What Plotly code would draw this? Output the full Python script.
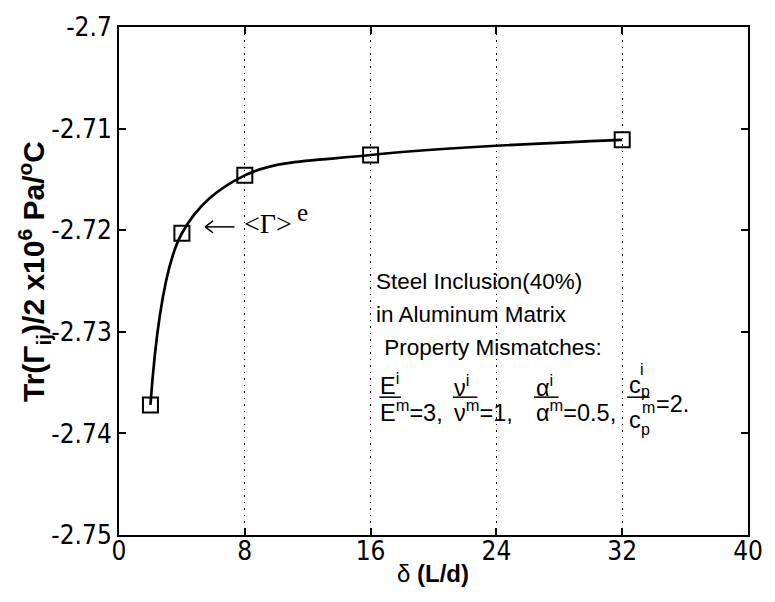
import plotly.graph_objects as go

# ---- data ----
delta = [2, 4, 8, 16, 32]
trace_vals = [-2.7372, -2.7203, -2.7146, -2.7126, -2.7111]
x_ticks = [0, 8, 16, 24, 32, 40]
x_ticktext = ["0", "8", "16", "24", "32", "40"]
y_ticks = [-2.75, -2.74, -2.73, -2.72, -2.71, -2.70]
y_ticktext = ["-2.75", "-2.74", "-2.73", "-2.72", "-2.71", "-2.7"]

W, H = 775, 602
L, R, T, B = 119, 13.5, 19, 67
pw = W - L - R
ph = H - T - B


def px(x):
    return (x - L) / pw


def py(y):
    return 1 - (y - T) / ph


SANS = "Liberation Sans, Arial, sans-serif"
NARROW = "Liberation Sans Narrow, Arial Narrow, DejaVu Sans Condensed, sans-serif"
SERIF = "Liberation Serif, Times New Roman, serif"

fig = go.Figure()
fig.add_trace(go.Scatter(
    x=delta, y=trace_vals, mode="lines+markers",
    line=dict(color="black", width=2.7, shape="spline", smoothing=1.0),
    marker=dict(symbol="square-open", size=15, color="black", line=dict(width=2, color="black")),
    showlegend=False,
))

anns = []


def ann(x, y, text, size=22, family=SANS, xanchor="left", yanchor="middle", angle=0):
    anns.append(dict(x=px(x), y=py(y), xref="paper", yref="paper", text=text,
                     showarrow=False, xanchor=xanchor, yanchor=yanchor, textangle=angle,
                     font=dict(family=family, size=size, color="black")))


# axis titles
ann(32, 267, "<b>Tr(Γ<sub>ij</sub>)/2 x10<sup>6</sup> Pa/<sup>o</sup>C</b>", size=30, xanchor="center", angle=-90)
ann(440, 574, "δ <b>(L/d)</b>", size=24, xanchor="center")

# <Γ>^e label
ann(245, 219, "&lt;Γ&gt;", size=28, family=SERIF)
ann(299, 207, "e", size=25, family=SERIF)

# text block
ann(379, 277, "Steel Inclusion(40%)", size=22.5)
ann(379, 311, "in Aluminum Matrix", size=22.5)
ann(382, 345, " Property Mismatches:", size=22.5)

# fractions
FS = 23.5
ann(384, 382, "E<sup>i</sup>", size=FS)
ann(384, 409, "E<sup>m</sup>=3,", size=FS)
ann(459, 384, "ν<sup>i</sup>", size=FS)
ann(459, 409, "ν<sup>m</sup>=1,", size=FS)
ann(543, 384, "α<sup>i</sup>", size=FS)
ann(543, 409, "α<sup>m</sup>=0.5,", size=FS)
ann(638, 383, "c", size=FS)
ann(649, 367, "i", size=16)
ann(650, 389, "p", size=16)
ann(638, 418, "c", size=FS)
ann(651, 405, "m", size=16)
ann(650, 428, "p", size=16)
ann(665, 402, "=2.", size=FS)

shapes = []
for x0, x1 in [(385, 407), (460, 485), (543, 568), (638, 661)]:
    shapes.append(dict(type="line", xref="paper", yref="paper",
                       x0=px(x0), x1=px(x1), y0=py(395), y1=py(395),
                       line=dict(color="black", width=1.5)))

# arrow pointing to the x=4 point
for (x0, y0, x1, y1) in [(207, 222, 237, 222), (207, 222, 215, 216), (207, 222, 215, 228)]:
    shapes.append(dict(type="line", xref="paper", yref="paper",
                       x0=px(x0), x1=px(x1), y0=py(y0), y1=py(y1),
                       line=dict(color="black", width=1.5)))

fig.update_layout(
    width=W, height=H,
    margin=dict(l=L, r=R, t=T, b=B),
    paper_bgcolor="white", plot_bgcolor="white",
    annotations=anns, shapes=shapes,
    xaxis=dict(range=[0, 40], tickvals=x_ticks, ticktext=x_ticktext,
               showline=True, linecolor="black", linewidth=2, mirror="ticks",
               ticks="inside", ticklen=7, tickwidth=2, tickcolor="black",
               showgrid=True, gridcolor="black", griddash="1.5px,5px", gridwidth=1.2,
               zeroline=False, ticklabeloverflow="allow",
               tickfont=dict(family=NARROW, size=26, color="black")),
    yaxis=dict(range=[-2.75, -2.70], tickvals=y_ticks, ticktext=y_ticktext,
               showline=True, linecolor="black", linewidth=2, mirror="ticks",
               ticks="inside", ticklen=7, tickwidth=2, tickcolor="black",
               showgrid=False, zeroline=False, ticklabeloverflow="allow",
               tickfont=dict(family=NARROW, size=26, color="black")),
)

try:
    fig.update_xaxes(ticklabelstandoff=-8)
except Exception:
    pass

fig.write_html("out.html")
